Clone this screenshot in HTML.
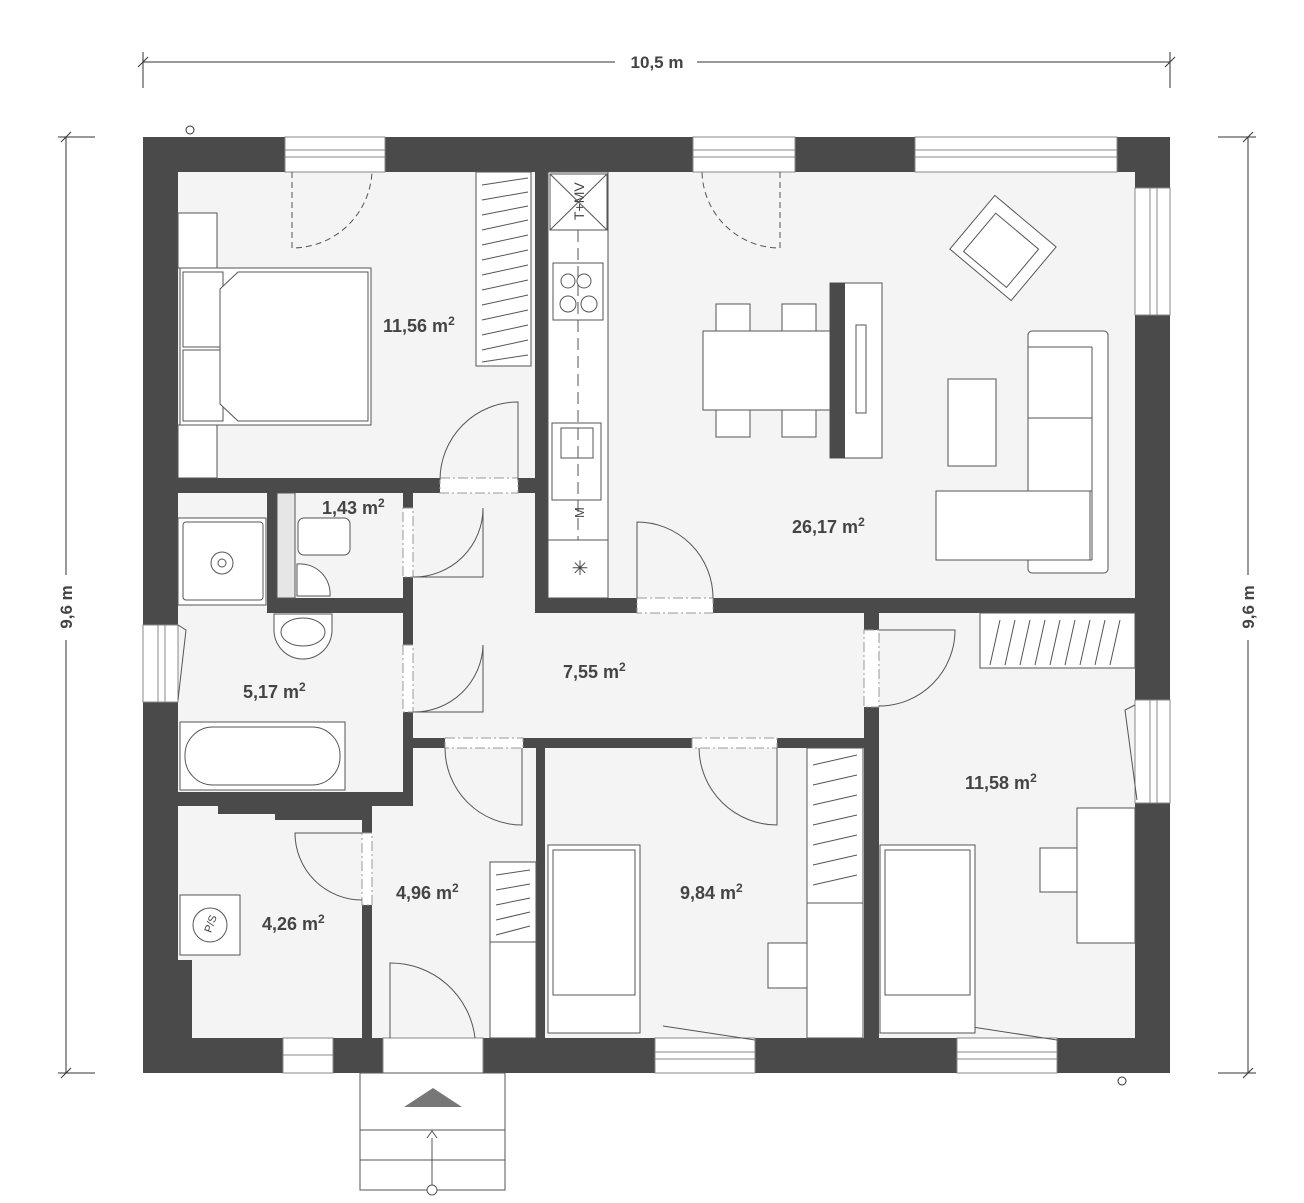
<!DOCTYPE html>
<html><head><meta charset="utf-8"><style>
html,body{margin:0;padding:0;background:#fff;}
svg{display:block;}
text{font-family:"Liberation Sans",sans-serif;font-weight:bold;fill:#444;}
</style></head><body>
<svg width="1304" height="1203" viewBox="0 0 1304 1203" xmlns="http://www.w3.org/2000/svg">
<g stroke="#333" stroke-width="1" fill="none">
<line x1="143" y1="62" x2="615" y2="62"/><line x1="697" y1="62" x2="1170" y2="62"/>
<line x1="143" y1="52" x2="143" y2="88"/><line x1="1170" y1="52" x2="1170" y2="88"/>
<line x1="138" y1="67" x2="148" y2="57"/><line x1="1165" y1="67" x2="1175" y2="57"/>
<line x1="66" y1="137" x2="66" y2="575"/><line x1="66" y1="640" x2="66" y2="1073"/>
<line x1="58" y1="137" x2="95" y2="137"/><line x1="58" y1="1073" x2="95" y2="1073"/>
<line x1="61" y1="142" x2="71" y2="132"/><line x1="61" y1="1078" x2="71" y2="1068"/>
<line x1="1248" y1="137" x2="1248" y2="575"/><line x1="1248" y1="640" x2="1248" y2="1073"/>
<line x1="1218" y1="137" x2="1256" y2="137"/><line x1="1218" y1="1073" x2="1256" y2="1073"/>
<line x1="1243" y1="142" x2="1253" y2="132"/><line x1="1243" y1="1078" x2="1253" y2="1068"/>
<circle cx="190" cy="130" r="4"/><circle cx="1122" cy="1081" r="4"/>
</g>
<text x="657" y="68" font-size="17" text-anchor="middle">10,5 m</text>
<text transform="translate(72,607) rotate(-90)" font-size="17" text-anchor="middle">9,6 m</text>
<text transform="translate(1254,607) rotate(-90)" font-size="17" text-anchor="middle">9,6 m</text>

<rect x="143" y="137" width="1027" height="936" fill="#f4f4f4"/>

<g fill="#4a4a4a">
<rect x="143" y="137" width="1027" height="35"/>
<rect x="143" y="1038" width="1027" height="35"/>
<rect x="143" y="137" width="35" height="936"/>
<rect x="1135" y="137" width="35" height="936"/>
<rect x="178" y="960" width="14" height="78"/>
<rect x="178" y="478" width="262" height="15"/>
<rect x="518" y="478" width="30" height="15"/>
<rect x="535" y="172" width="13" height="441"/>
<rect x="267" y="493" width="10" height="120"/>
<rect x="267" y="598" width="146" height="15"/>
<rect x="403" y="493" width="10" height="313"/>
<rect x="178" y="792" width="235" height="14"/>
<rect x="218" y="806" width="152" height="8"/>
<rect x="275" y="806" width="95" height="14"/>
<rect x="362" y="806" width="10" height="232"/>
<rect x="535" y="598" width="600" height="15"/>
<rect x="864" y="613" width="15" height="425"/>
<rect x="413" y="738" width="451" height="10"/>
<rect x="536" y="738" width="9" height="300"/>
</g>

<g fill="#fff" stroke="#888" stroke-width="1">
<rect x="285" y="137" width="100" height="35"/><line x1="285" y1="150" x2="385" y2="150"/><line x1="285" y1="157" x2="385" y2="157"/>
<rect x="693" y="137" width="102" height="35"/><line x1="693" y1="150" x2="795" y2="150"/><line x1="693" y1="157" x2="795" y2="157"/>
<rect x="915" y="137" width="202" height="35"/><line x1="915" y1="150" x2="1117" y2="150"/><line x1="915" y1="157" x2="1117" y2="157"/>
<rect x="1135" y="188" width="35" height="127"/><line x1="1150" y1="188" x2="1150" y2="315"/><line x1="1157" y1="188" x2="1157" y2="315"/>
<rect x="1135" y="700" width="35" height="103"/><line x1="1150" y1="700" x2="1150" y2="803"/><line x1="1157" y1="700" x2="1157" y2="803"/>
<rect x="143" y="625" width="35" height="77"/><line x1="158" y1="625" x2="158" y2="702"/><line x1="165" y1="625" x2="165" y2="702"/>
<rect x="283" y="1038" width="50" height="35"/><line x1="283" y1="1055" x2="333" y2="1055"/>
<rect x="655" y="1038" width="100" height="35"/><line x1="655" y1="1052" x2="755" y2="1052"/><line x1="655" y1="1059" x2="755" y2="1059"/>
<rect x="957" y="1038" width="100" height="35"/><line x1="957" y1="1052" x2="1057" y2="1052"/><line x1="957" y1="1059" x2="1057" y2="1059"/>
<rect x="383" y="1038" width="100" height="35"/>
</g>
<g fill="#fff" stroke="#999" stroke-width="1" stroke-dasharray="10,3,2,3">
<rect x="440" y="478" width="78" height="15"/>
<rect x="403" y="508" width="10" height="69"/>
<rect x="403" y="645" width="10" height="67"/>
<rect x="637" y="598" width="76" height="15"/>
<rect x="864" y="630" width="15" height="77"/>
<rect x="445" y="738" width="78" height="10"/>
<rect x="692" y="738" width="85" height="10"/>
<rect x="362" y="833" width="10" height="72"/>
</g>
<g fill="none" stroke="#555" stroke-width="1">
<path d="M292 172 V248 A80 80 0 0 0 372 172" stroke-dasharray="6,4"/>
<path d="M780 172 V248 A78 78 0 0 1 702 172" stroke-dasharray="6,4"/>
<path d="M518 480 V402 A78 78 0 0 0 440 480"/>
<path d="M413 577 H483 V508 A69 69 0 0 1 413 577"/>
<path d="M413 712 H483 V645 A69 69 0 0 1 413 712"/>
<path d="M637 598 V522 A76 76 0 0 1 713 598"/>
<path d="M879 630 H955 V630 A76 76 0 0 1 879 706"/>
<path d="M522 748 V825 A77 77 0 0 1 445 748"/>
<path d="M777 748 V825 A78 78 0 0 1 699 748"/>
<path d="M362 833 H295 A67 67 0 0 0 362 900"/>
<path d="M390 1038 V963 A85 85 0 0 1 475 1038"/>
<path d="M1135 705 L1125 710 L1137 800"/>
<path d="M178 625 L186 630 L178 700"/>
<path d="M663 1026 L755 1040"/><path d="M966 1026 L1057 1040"/>
</g>

<g fill="#fff" stroke="#555" stroke-width="1">
<rect x="178" y="213" width="39" height="55"/><rect x="178" y="425" width="39" height="53"/>
<rect x="180" y="268" width="191" height="157"/>
<rect x="183" y="272" width="40" height="75"/><rect x="183" y="350" width="40" height="71"/>
<path d="M238 272 H368 V421 H238 L220 404 V289 Z"/>
<rect x="476" y="172" width="55" height="194"/>
</g>
<g stroke="#555" stroke-width="1">
<line x1="482" y1="185" x2="528" y2="178"/><line x1="482" y1="200" x2="528" y2="192"/><line x1="482" y1="215" x2="528" y2="206"/><line x1="482" y1="230" x2="528" y2="220"/><line x1="482" y1="245" x2="528" y2="235"/><line x1="482" y1="260" x2="528" y2="250"/><line x1="482" y1="275" x2="528" y2="265"/><line x1="482" y1="290" x2="528" y2="280"/><line x1="482" y1="305" x2="528" y2="295"/><line x1="482" y1="320" x2="528" y2="310"/><line x1="482" y1="335" x2="528" y2="325"/><line x1="482" y1="350" x2="528" y2="340"/><line x1="482" y1="362" x2="528" y2="355"/>
</g>

<g fill="#fff" stroke="#555" stroke-width="1">
<rect x="548" y="172" width="60" height="426"/>
<rect x="550" y="174" width="57" height="56"/>
<line x1="550" y1="174" x2="607" y2="230"/><line x1="607" y1="174" x2="550" y2="230"/>
<rect x="553" y="263" width="50" height="57"/>
<circle cx="568" cy="281" r="7"/><circle cx="584" cy="281" r="7"/><circle cx="568" cy="304" r="8"/><circle cx="589" cy="304" r="8"/>
<rect x="552" y="423" width="49" height="77"/><rect x="561" y="428" width="32" height="30"/>
<line x1="548" y1="540" x2="608" y2="540"/>
</g>
<line x1="578" y1="230" x2="578" y2="540" stroke="#555" stroke-dasharray="12,6"/>
<text transform="translate(584,220) rotate(-90)" font-size="14" style="font-weight:normal">T+MV</text>
<text transform="translate(584,518) rotate(-90)" font-size="13" style="font-weight:normal">M</text>
<text x="580" y="575" font-size="20" text-anchor="middle" style="font-weight:normal">✳</text>

<g fill="#fff" stroke="#555" stroke-width="1">
<rect x="716" y="304" width="34" height="27"/><rect x="782" y="304" width="34" height="27"/>
<rect x="716" y="410" width="34" height="27"/><rect x="782" y="410" width="34" height="27"/>
<rect x="703" y="331" width="127" height="79"/>
<rect x="830" y="283" width="52" height="175"/>
<rect x="856" y="325" width="10" height="88"/>
<g transform="translate(1003,248) rotate(40)"><rect x="-40" y="-35" width="80" height="70"/><rect x="-28" y="-22" width="56" height="50"/></g>
<rect x="948" y="379" width="48" height="87"/>
<rect x="1028" y="331" width="80" height="242" rx="4"/>
<line x1="1028" y1="347" x2="1092" y2="347"/><line x1="1028" y1="418" x2="1092" y2="418"/><line x1="1028" y1="491" x2="1092" y2="491"/><line x1="1092" y1="347" x2="1092" y2="560"/><line x1="1028" y1="560" x2="1092" y2="560"/>
<rect x="936" y="491" width="154" height="69"/>
</g>
<rect x="830" y="283" width="15" height="175" fill="#4a4a4a"/>

<g fill="#fff" stroke="#555" stroke-width="1">
<rect x="178" y="518" width="88" height="87"/>
<rect x="183" y="522" width="80" height="78" rx="3"/>
<circle cx="222" cy="563" r="11"/><circle cx="222" cy="563" r="4"/>
<rect x="277" y="493" width="18" height="105" fill="#e6e6e6"/>
<rect x="298" y="518" width="52" height="37" rx="6"/>
<path d="M297 564 A30 30 0 0 1 330 596 H297 Z"/>
<path d="M274 614 H332 V630 A29 29 0 0 1 274 630 Z"/>
<ellipse cx="303" cy="632" rx="22" ry="14"/>
<rect x="180" y="722" width="165" height="68"/>
<rect x="185" y="727" width="155" height="58" rx="28"/>
<rect x="180" y="895" width="60" height="60"/>
<circle cx="210" cy="925" r="17"/>
</g>
<text transform="translate(214,925) rotate(-70)" font-size="11" text-anchor="middle" style="font-weight:normal">P/S</text>

<g fill="#fff" stroke="#555" stroke-width="1">
<rect x="490" y="862" width="46" height="80"/><rect x="490" y="942" width="46" height="96"/>
<line x1="496" y1="875" x2="530" y2="870"/><line x1="496" y1="890" x2="530" y2="884"/><line x1="496" y1="905" x2="530" y2="898"/><line x1="496" y1="920" x2="530" y2="912"/><line x1="496" y1="935" x2="530" y2="926"/>
</g>
<g fill="#fff" stroke="#555" stroke-width="1">
<rect x="548" y="845" width="92" height="188"/><rect x="553" y="850" width="82" height="145"/>
<rect x="807" y="748" width="56" height="155"/><rect x="807" y="903" width="56" height="135"/>
<rect x="768" y="943" width="39" height="45"/>
<line x1="813" y1="765" x2="857" y2="755"/><line x1="813" y1="785" x2="857" y2="775"/><line x1="813" y1="805" x2="857" y2="795"/><line x1="813" y1="825" x2="857" y2="815"/><line x1="813" y1="845" x2="857" y2="835"/><line x1="813" y1="865" x2="857" y2="855"/><line x1="813" y1="885" x2="857" y2="875"/>
</g>
<g fill="#fff" stroke="#555" stroke-width="1">
<rect x="980" y="613" width="155" height="55"/>
<line x1="990" y1="665" x2="1000" y2="620"/><line x1="1005" y1="665" x2="1015" y2="620"/><line x1="1020" y1="665" x2="1030" y2="620"/><line x1="1035" y1="665" x2="1045" y2="620"/><line x1="1050" y1="665" x2="1060" y2="620"/><line x1="1065" y1="665" x2="1075" y2="620"/><line x1="1080" y1="665" x2="1090" y2="620"/><line x1="1095" y1="665" x2="1105" y2="620"/><line x1="1110" y1="665" x2="1120" y2="620"/>
<rect x="1040" y="848" width="37" height="44"/>
<rect x="1077" y="808" width="58" height="135"/>
<rect x="880" y="845" width="95" height="188"/><rect x="885" y="850" width="85" height="145"/>
</g>

<g fill="#fff" stroke="#555" stroke-width="1">
<rect x="360" y="1073" width="145" height="117"/>
<line x1="360" y1="1130" x2="505" y2="1130"/><line x1="360" y1="1160" x2="505" y2="1160"/>
<line x1="432" y1="1130" x2="432" y2="1190"/>
<path d="M427 1138 L432 1131 L437 1138"/>
<circle cx="432" cy="1190" r="5"/>
</g>
<polygon points="404,1107 462,1107 433,1088" fill="#777"/>

<g font-size="18">
<text x="383" y="332">11,56 m<tspan dy="-7" font-size="12">2</tspan></text>
<text x="792" y="533">26,17 m<tspan dy="-7" font-size="12">2</tspan></text>
<text x="322" y="514">1,43 m<tspan dy="-7" font-size="12">2</tspan></text>
<text x="243" y="698">5,17 m<tspan dy="-7" font-size="12">2</tspan></text>
<text x="563" y="678">7,55 m<tspan dy="-7" font-size="12">2</tspan></text>
<text x="965" y="789">11,58 m<tspan dy="-7" font-size="12">2</tspan></text>
<text x="396" y="899">4,96 m<tspan dy="-7" font-size="12">2</tspan></text>
<text x="680" y="899">9,84 m<tspan dy="-7" font-size="12">2</tspan></text>
<text x="262" y="930">4,26 m<tspan dy="-7" font-size="12">2</tspan></text>
</g>
</svg>
</body></html>
